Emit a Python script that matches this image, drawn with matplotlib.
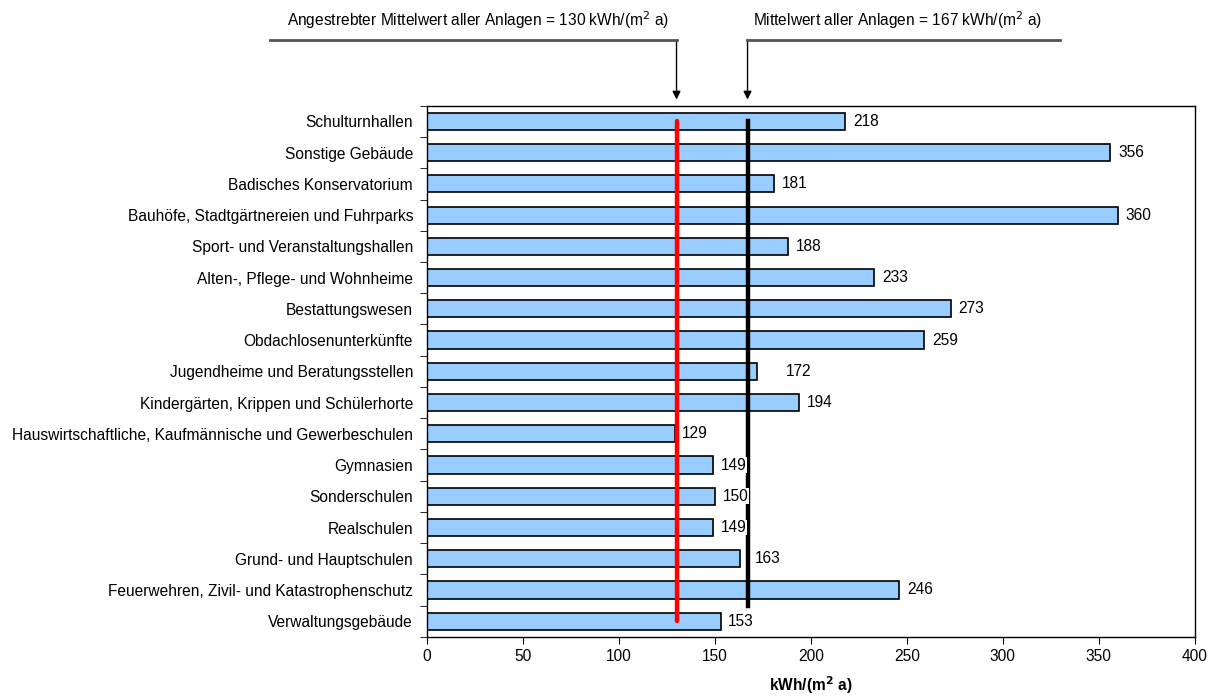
import numpy as np
import matplotlib.pyplot as plt

plt.rcParams['font.family'] = ['Liberation Sans', 'DejaVu Sans']

kategorien = ["Verwaltungsgebäude",
              "Feuerwehren, Zivil- und Katastrophenschutz",
              "Grund- und Hauptschulen",
              "Realschulen",
              "Sonderschulen",
              "Gymnasien",
              "Hauswirtschaftliche, Kaufmännische und Gewerbeschulen",
              "Kindergärten, Krippen und Schülerhorte",
              "Jugendheime und Beratungsstellen",
              "Obdachlosenunterkünfte",
              "Bestattungswesen",
              "Alten-, Pflege- und Wohnheime",
              "Sport- und Veranstaltungshallen",
              "Bauhöfe, Stadtgärtnereien und Fuhrparks",
              "Badisches Konservatorium",
              "Sonstige Gebäude",
              "Schulturnhallen"]
werte = [153, 246, 163, 149, 150, 149, 129, 194, 172, 259, 273, 233, 188, 360, 181, 356, 218]
ziel = 130
mittel = 167

fs = 11.2

fig = plt.figure(figsize=(12.13, 6.96), dpi=100)
ax = fig.add_axes([0.352, 0.085, 0.633, 0.763])

y = np.arange(len(kategorien))
ax.barh(y, werte, height=0.55, color="#99CCFF", edgecolor="black", linewidth=1.2, zorder=2)

# einige Beschriftungen sind im Original nach rechts verschoben
extra = {2: 4, 8: 11}
for i, w in enumerate(werte):
    dx = 4 + extra.get(i, 0)
    ax.text(w + dx, i, str(w), va="center", ha="left", fontsize=fs, zorder=4,
            bbox=dict(facecolor="white", edgecolor="none", pad=0.2))

# Mittelwertlinien
ax.plot([ziel, ziel], [0, len(werte) - 1], color="red", lw=3.2, solid_capstyle="round", zorder=3)
ax.plot([mittel, mittel], [0.5, len(werte) - 1], color="black", lw=3.2, zorder=3)

ax.set_xlim(0, 400)
ax.set_ylim(-0.5, len(werte) - 0.5)
ax.set_xticks(np.arange(0, 401, 50))
ax.set_yticks(y)
ax.set_yticklabels(kategorien, fontsize=fs)
ax.set_yticks(np.arange(-0.5, len(werte), 1), minor=True)
ax.tick_params(axis="y", which="major", length=0, pad=10)
ax.tick_params(axis="y", which="minor", length=5, direction="out")
ax.tick_params(axis="x", length=5, labelsize=fs)
ax.set_xlabel("kWh/(m$^\\mathbf{2}$ a)", fontweight="bold", fontsize=fs, labelpad=8)
for s in ax.spines.values():
    s.set_linewidth(1.0)

# Beschriftungen oben mit Pfeilen
tf = ax.transData
def pfeil(xwert, text, x_links, x_rechts, x_text):
    y_lin = 40
    fig.add_artist(plt.Line2D([x_links / 1213, x_rechts / 1213],
                              [1 - y_lin / 696, 1 - y_lin / 696],
                              color="#555555", lw=2))
    xp = fig.transFigure.inverted().transform(tf.transform((xwert, 0)))[0]
    ax.annotate("", xy=(xwert, len(werte) - 0.5 + 0.2), xycoords="data",
                xytext=(xp, 1 - y_lin / 696), textcoords="figure fraction",
                arrowprops=dict(arrowstyle="-|>", color="black", lw=1, mutation_scale=12,
                                shrinkA=0, shrinkB=0), annotation_clip=False)
    fig.text(x_text / 1213, 1 - 20 / 696, text, ha="center", va="center", fontsize=fs)

pfeil(ziel, "Angestrebter Mittelwert aller Anlagen = 130 kWh/(m$^2$ a)", 270, 677, 478)
pfeil(mittel, "Mittelwert aller Anlagen = 167 kWh/(m$^2$ a)", 747, 1060, 898)

fig.savefig("out.png", dpi=100)
